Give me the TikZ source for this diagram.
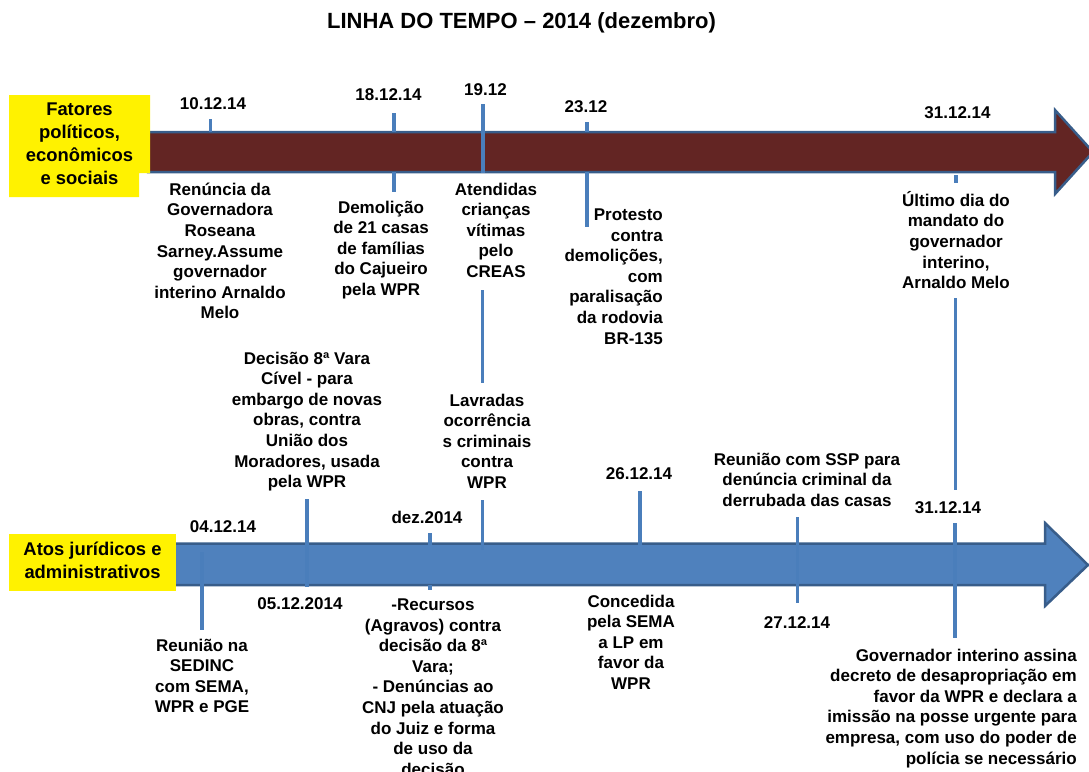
\documentclass[tikz,border=0pt]{standalone}
\usepackage{fontspec}
\setmainfont{Liberation Sans}
\newcommand{\tlbody}{\fontsize{17}{20.6}\selectfont\bfseries}
\newcommand{\tllabel}{\fontsize{18.4}{22.7}\selectfont\bfseries}
\newcommand{\tltitle}{\fontsize{22}{26}\selectfont\bfseries}
\definecolor{maroon}{HTML}{632523}
\definecolor{steel}{HTML}{4F81BD}
\definecolor{edgeblue}{HTML}{385D8A}
\definecolor{tickblue}{HTML}{4A7EBB}
\begin{document}
\begin{tikzpicture}[x=1pt,y=-1pt,
  event/.style={font=\tlbody, align=center, inner sep=0pt, anchor=north, execute at begin node=\strut},
  eventr/.style={event, align=right, anchor=north east},
  datelbl/.style={font=\tlbody, inner sep=0pt, anchor=base},
  rowlbl/.style={font=\tllabel, align=center, inner sep=0pt, anchor=north, execute at begin node=\strut},
  tick/.style={draw=tickblue, line width=3.5pt},
  band/.style={draw=edgeblue, line width=2.5pt, line join=miter},
  tag/.style={fill=yellow, draw=none}]
\useasboundingbox (0,0) rectangle (1089,771);

% title
\node[font=\tltitle, inner sep=0pt, anchor=base] (title) at (521.5,28.5) {LINHA DO TEMPO – 2014 (dezembro)};

% the two timeline arrows
\draw[band, fill=maroon] (148,132) -- (1055,132) -- (1055,110) -- (1093,152) -- (1055,194) -- (1055,172) -- (148,172) -- cycle;
\draw[band, fill=steel] (173,543.5) -- (1045,543.5) -- (1045,523) -- (1088,565) -- (1045,606) -- (1045,585) -- (173,585) -- cycle;

% row labels
\path[tag] (9,95) -- (150,95) -- (150,173) -- (139,173) -- (139,197) -- (9,197) -- cycle;
\path[tag] (9,534) rectangle (176,591);
\node[rowlbl] (fatores) at (79.5,103.1) {Fatores\\políticos,\\econômicos\\e sociais};
\node[rowlbl] (atos) at (92.5,542.1) {Atos jurídicos e\\administrativos};

% dates
\node[datelbl] (d1012) at (213,109) {10.12.14};
\node[datelbl] (d1812) at (388.5,100) {18.12.14};
\node[datelbl] (d1912) at (485.5,95) {19.12};
\node[datelbl] (d2312) at (586,112) {23.12};
\node[datelbl] (d3112a) at (957.5,118) {31.12.14};
\node[datelbl] (d0412) at (223,532) {04.12.14};
\node[datelbl] (d0512) at (300,609) {05.12.2014};
\node[datelbl] (ddez) at (427,523) {dez.2014};
\node[datelbl] (d2612) at (639,479) {26.12.14};
\node[datelbl] (d2712) at (797,628) {27.12.14};
\node[datelbl] (d3112b) at (948,513) {31.12.14};

% events of the upper row
\node[event] (renuncia) at (220,182.6) {Renúncia da\\Governadora\\Roseana\\Sarney.Assume\\governador\\interino Arnaldo\\Melo};
\node[event] (demolicao) at (381,200.6) {Demolição\\de 21 casas\\de famílias\\do Cajueiro\\pela WPR};
\node[event] (atendidas) at (496,182.6) {Atendidas\\crianças\\vítimas\\pelo\\CREAS};
\node[eventr] (protesto) at (663,208.6) {Protesto\\contra\\demolições,\\com\\paralisação\\da rodovia\\BR-135};
\node[event] (ultimo) at (956,191) {Último dia do\\mandato do\\governador\\interino,\\Arnaldo Melo};

% events of the lower row
\node[event] (decisao) at (307,351.6) {Decisão 8ª Vara\\Cível - para\\embargo de novas\\obras, contra\\União dos\\Moradores, usada\\pela WPR};
\node[event] (lavradas) at (487,393.6) {Lavradas\\ocorrência\\s criminais\\contra\\WPR};
\node[event] (recursos) at (433,598.6) {-Recursos\\(Agravos) contra\\decisão da 8ª\\Vara;\\- Denúncias ao\\CNJ pela atuação\\do Juiz e forma\\de uso da\\decisão};
\node[event] (concedida) at (631,594.6) {Concedida\\pela SEMA\\a LP em\\favor da\\WPR};
\node[event] (ssp) at (807,452.6) {Reunião com SSP para\\denúncia criminal da\\derrubada das casas};
\node[eventr] (governador) at (1077,648.6) {Governador interino assina\\decreto de desapropriação em\\favor da WPR e declara a\\imissão na posse urgente para\\empresa, com uso do poder de\\polícia se necessário};
\node[event] (reuniao) at (202,638.6) {Reunião na\\SEDINC\\com SEMA,\\WPR e PGE};

% tick ends
\coordinate (t1012a) at (210.5,119);  \coordinate (t1012b) at (210.5,132);
\coordinate (t1812a) at (394,113);    \coordinate (t1812b) at (394,132);
\coordinate (t1812c) at (394,172);    \coordinate (t1812d) at (394,192);
\coordinate (t1912a) at (483,104);    \coordinate (t1912b) at (483,173);
\coordinate (t1912c) at (482.5,290);  \coordinate (t1912d) at (482.5,383);
\coordinate (t1912e) at (482.5,500);  \coordinate (t1912f) at (482.5,550);
\coordinate (t2312a) at (587,122);    \coordinate (t2312b) at (587,132);
\coordinate (t2312c) at (587,172);    \coordinate (t2312d) at (587,227);
\coordinate (t3112a) at (956,175);    \coordinate (t3112b) at (956,183);
\coordinate (t3112c) at (955.5,298);  \coordinate (t3112d) at (955.5,490);
\coordinate (t3112e) at (955,523);    \coordinate (t3112f) at (955,638);
\coordinate (t0412a) at (202,552);    \coordinate (t0412b) at (202,630);
\coordinate (t0512a) at (307,499);    \coordinate (t0512b) at (307,587);
\coordinate (tdeza) at (430,533);     \coordinate (tdezb) at (430,545);
\coordinate (tdezc) at (430,585);     \coordinate (tdezd) at (430,590);
\coordinate (t2612a) at (640,491);    \coordinate (t2612b) at (640,545);
\coordinate (t2712a) at (797.5,517);  \coordinate (t2712b) at (797.5,603);

% ticks
\draw[tick] (t1012a) -- (t1012b);
\draw[tick] (t1812a) -- (t1812b);
\draw[tick] (t1812c) -- (t1812d);
\draw[tick] (t1912a) -- (t1912b);
\draw[tick] (t1912c) -- (t1912d);
\draw[tick] (t1912e) -- (t1912f);
\draw[tick] (t2312a) -- (t2312b);
\draw[tick] (t2312c) -- (t2312d);
\draw[tick] (t3112a) -- (t3112b);
\draw[tick] (t3112c) -- (t3112d);
\draw[tick] (t3112e) -- (t3112f);
\draw[tick] (t0412a) -- (t0412b);
\draw[tick] (t0512a) -- (t0512b);
\draw[tick] (tdeza) -- (tdezb);
\draw[tick] (tdezc) -- (tdezd);
\draw[tick] (t2612a) -- (t2612b);
\draw[tick] (t2712a) -- (t2712b);
\end{tikzpicture}
\end{document}
